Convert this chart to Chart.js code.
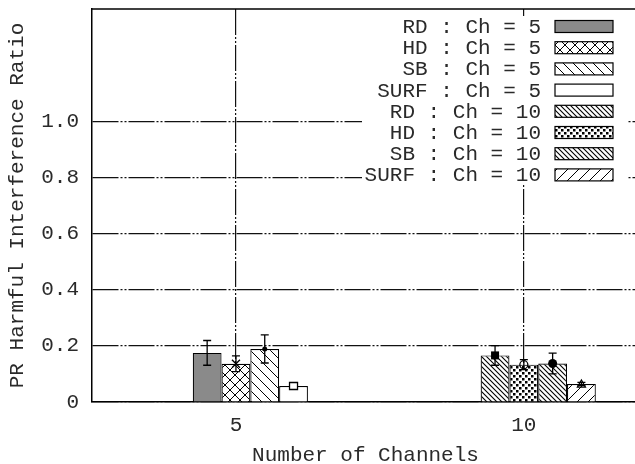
<!DOCTYPE html>
<html>
<head>
<meta charset="utf-8">
<script src="https://cdn.jsdelivr.net/npm/chart.js@4/dist/chart.umd.min.js"></script>
<style>
  html, body { margin: 0; padding: 0; background: #fff; overflow: hidden; }
  #wrap { width: 635px; height: 464px; overflow: hidden; }
  #wrap canvas { display: block; }
</style>
</head>
<body>
<div id="wrap"><canvas id="chart" width="645" height="464"></canvas></div>
<script>
// data
const channels = [5, 10];
const schemes = ["RD", "HD", "SB", "SURF"];
const rdRatio = [0.175, 0.166];
const hdRatio = [0.136, 0.133];
const sbRatio = [0.189, 0.137];
const surfRatio = [0.057, 0.064];
const rdErr = [0.044, 0.035];
const hdErr = [0.028, 0.018];
const sbErr = [0.05, 0.037];
const surfErr = [0.005, 0.006];
const yTicks = [0, 0.2, 0.4, 0.6, 0.8, 1.0];
const yTickLabels = ["0", "0.2", "0.4", "0.6", "0.8", "1.0"];
const xTickLabels = ["5", "10"];

const series = [rdRatio, hdRatio, sbRatio, surfRatio];
const errs = [rdErr, hdErr, sbErr, surfErr];

const FONT = "'Liberation Mono', 'Courier New', monospace";
const INK = "#2a2a2a";

// hatch patterns like gnuplot fill styles
function tile(size, draw) {
  const c = document.createElement("canvas");
  c.width = size; c.height = size;
  const g = c.getContext("2d");
  g.fillStyle = "#fff";
  g.fillRect(0, 0, size, size);
  g.strokeStyle = "#000";
  g.fillStyle = "#000";
  draw(g, size);
  return g.createPattern(c, "repeat");
}
function back(g, s, w) { // "\" lines
  g.lineWidth = w;
  g.beginPath();
  g.moveTo(-1, -1); g.lineTo(s + 1, s + 1);
  g.moveTo(-1, s - 1); g.lineTo(1, s + 1);
  g.moveTo(s - 1, -1); g.lineTo(s + 1, 1);
  g.stroke();
}
function fwd(g, s, w) { // "/" lines
  g.lineWidth = w;
  g.beginPath();
  g.moveTo(-1, s + 1); g.lineTo(s + 1, -1);
  g.moveTo(-1, 1); g.lineTo(1, -1);
  g.moveTo(s - 1, s + 1); g.lineTo(s + 1, s - 1);
  g.stroke();
}
const pCross = tile(10, (g, s) => { back(g, s, 1); fwd(g, s, 1); });
const pBack = tile(10, (g, s) => back(g, s, 1));
const pDense = tile(5, (g, s) => back(g, s, 1.1));
const pDots = tile(6, (g) => { g.fillRect(0, 0, 2.5, 2.5); g.fillRect(3, 3, 2.5, 2.5); });
const pFwd = tile(11, (g, s) => fwd(g, s, 1));

// fills[scheme][channel index]
const fills = [
  ["#8a8a8a", pDense],
  [pCross, pDots],
  [pBack, pDense],
  ["#ffffff", pFwd]
];
const markers = [
  ["none", "squareFilled"],
  ["cross", "circleOpen"],
  ["dot", "circleFilled"],
  ["squareOpen", "triangleOpen"]
];

function drawMarker(ctx, kind, x, y) {
  ctx.save();
  ctx.strokeStyle = "#000";
  ctx.fillStyle = "#000";
  ctx.lineWidth = 1.3;
  ctx.beginPath();
  if (kind === "cross") {
    ctx.moveTo(x - 4, y - 4); ctx.lineTo(x + 4, y + 4);
    ctx.moveTo(x - 4, y + 4); ctx.lineTo(x + 4, y - 4);
    ctx.stroke();
  } else if (kind === "dot") {
    ctx.arc(x, y, 2.5, 0, Math.PI * 2); ctx.fill();
  } else if (kind === "squareOpen") {
    ctx.fillStyle = "#fff";
    ctx.rect(x - 4, y - 3.5, 8, 7); ctx.fill(); ctx.stroke();
  } else if (kind === "squareFilled") {
    ctx.rect(x - 4, y - 4, 8, 8); ctx.fill();
  } else if (kind === "circleOpen") {
    ctx.arc(x, y, 4, 0, Math.PI * 2); ctx.stroke();
  } else if (kind === "circleFilled") {
    ctx.arc(x, y, 4.5, 0, Math.PI * 2); ctx.fill();
  } else if (kind === "triangleOpen") {
    ctx.moveTo(x, y - 4); ctx.lineTo(x + 4, y + 3); ctx.lineTo(x - 4, y + 3); ctx.closePath();
    ctx.stroke();
  }
  ctx.restore();
}

const extras = {
  id: "extras",
  afterDatasetsDraw(chart) {
    const { ctx, chartArea: a, scales: { y } } = chart;
    // error bars and point markers
    chart.data.datasets.forEach((ds, k) => {
      const meta = chart.getDatasetMeta(k);
      meta.data.forEach((bar, i) => {
        const m = series[k][i], e = errs[k][i];
        const x = bar.x;
        const yHi = y.getPixelForValue(m + e);
        const yLo = y.getPixelForValue(m - e);
        ctx.save();
        ctx.strokeStyle = "#000";
        ctx.lineWidth = 1.3;
        ctx.beginPath();
        ctx.moveTo(x, yHi); ctx.lineTo(x, yLo);
        ctx.moveTo(x - 4, yHi); ctx.lineTo(x + 4, yHi);
        ctx.moveTo(x - 4, yLo); ctx.lineTo(x + 4, yLo);
        ctx.stroke();
        ctx.restore();
        drawMarker(ctx, markers[k][i], x, y.getPixelForValue(m));
      });
    });
    // top frame
    ctx.save();
    ctx.strokeStyle = "#000";
    ctx.lineWidth = 1.5;
    ctx.beginPath();
    ctx.moveTo(a.left, a.top); ctx.lineTo(a.right, a.top);
    ctx.stroke();
    ctx.restore();
  },
  afterDraw(chart) {
    const { ctx } = chart;
    // key box inside the plot
    ctx.save();
    ctx.fillStyle = "#fff";
    ctx.fillRect(362, 16, 265, 169);
    ctx.font = "21px " + FONT;
    ctx.textAlign = "right";
    ctx.textBaseline = "middle";
    let row = 0;
    channels.forEach((c, i) => {
      schemes.forEach((s, k) => {
        const cy = 26.5 + row * 21.2;
        ctx.fillStyle = INK;
        ctx.fillText(s + " : Ch = " + c, 541, cy + 1);
        ctx.fillStyle = fills[k][i];
        ctx.fillRect(555, cy - 6, 58, 12);
        ctx.strokeStyle = "#000";
        ctx.lineWidth = 1.2;
        ctx.strokeRect(555, cy - 6, 58, 12);
        row++;
      });
    });
    ctx.restore();
  }
};

const dash = [26, 2, 2, 2, 2, 2];

new Chart(document.getElementById("chart"), {
  type: "bar",
  data: {
    datasets: schemes.map((s, k) => ({
      label: s,
      data: channels.map((c, i) => ({ x: c, y: series[k][i] })),
      backgroundColor: (ctx) => fills[k][ctx.dataIndex || 0],
      borderColor: "#000",
      borderWidth: 1.2,
      xAxisID: "xb",
      categoryPercentage: 0.4,
      barPercentage: 1.0
    }))
  },
  options: {
    responsive: false,
    animation: false,
    events: [],
    layout: { padding: { left: 0, right: 6, top: 9, bottom: 0 } },
    plugins: { legend: { display: false }, tooltip: { enabled: false } },
    scales: {
      x: {
        type: "linear",
        position: "bottom",
        min: 2.5,
        max: 12,
        offset: false,
        afterBuildTicks: (s) => { s.ticks = channels.map((v) => ({ value: v })); },
        afterFit: (s) => { s.height = 62; s.paddingLeft = 0; s.paddingRight = 0; },
        ticks: {
          callback: (v, i) => xTickLabels[i],
          font: { family: FONT, size: 21 },
          color: INK,
          padding: 11,
          maxRotation: 0,
          autoSkip: false
        },
        grid: { color: "#111", lineWidth: 1.2, drawTicks: false, offset: false },
        border: { display: true, color: "#000", width: 1.5, dash: dash },
        title: {
          display: true,
          text: "Number of Channels",
          color: INK,
          font: { family: FONT, size: 21, lineHeight: 0.86 },
          padding: { top: 0, bottom: 0 }
        }
      },
      xb: {
        type: "linear",
        position: "bottom",
        display: false,
        min: 2.25,
        max: 11.75,
        offset: false,
        grid: { offset: false },
        afterBuildTicks: (s) => { s.ticks = channels.map((v) => ({ value: v })); }
      },
      y: {
        type: "linear",
        min: 0,
        max: 1.4,
        afterBuildTicks: (s) => { s.ticks = yTicks.map((v) => ({ value: v })); },
        afterFit: (s) => { s.width = 92; s.paddingTop = 0; s.paddingBottom = 0; },
        ticks: {
          callback: (v, i) => yTickLabels[i],
          font: { family: FONT, size: 21 },
          color: INK,
          padding: 13
        },
        grid: { color: "#111", lineWidth: 1.2, drawTicks: false },
        border: { display: true, color: "#000", width: 1.5, dash: dash },
        title: {
          display: true,
          text: "PR Harmful Interference Ratio",
          color: INK,
          font: { family: FONT, size: 21 },
          padding: { top: 5, bottom: 0 }
        }
      }
    }
  },
  plugins: [extras]
});
</script>
</body>
</html>
